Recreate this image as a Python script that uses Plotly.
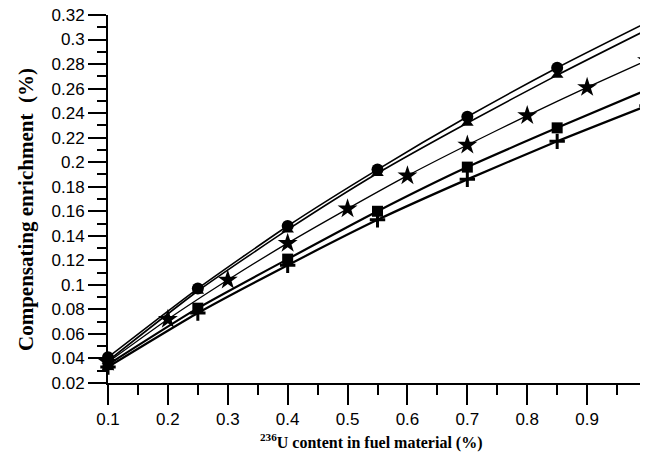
import plotly.graph_objects as go

x7 = [0.1, 0.25, 0.4, 0.55, 0.7, 0.85, 1.0]
x10 = [0.1, 0.2, 0.3, 0.4, 0.5, 0.6, 0.7, 0.8, 0.9, 1.0]
x_labels = ["0.1", "0.2", "0.3", "0.4", "0.5", "0.6", "0.7", "0.8", "0.9", "1"]

circle_vals = [0.041, 0.097, 0.148, 0.194, 0.237, 0.277, 0.314]
triangle_vals = [0.038, 0.095, 0.145, 0.191, 0.232, 0.271, 0.308]
star_vals = [0.037, 0.072, 0.104, 0.134, 0.162, 0.189, 0.214, 0.238, 0.261, 0.283]
square_vals = [0.035, 0.081, 0.121, 0.160, 0.196, 0.228, 0.259]
plus_vals = [0.033, 0.077, 0.116, 0.153, 0.186, 0.217, 0.246]

series = [
    (x7, circle_vals, "circle", 12, 1.6),
    (x7, triangle_vals, "triangle-up", 11, 1.6),
    (x10, star_vals, "star", 15, 1.3),
    (x7, square_vals, "square", 11, 2.2),
    (x7, plus_vals, "cross-thin", 11, 2.2),
]

fig = go.Figure()
for xs, ys, sym, sz, lw in series:
    mk = dict(symbol=sym, size=sz, color="black")
    if sym == "cross-thin":
        mk["line"] = dict(color="black", width=3)
    fig.add_trace(go.Scatter(
        x=xs, y=ys, mode="lines+markers",
        line=dict(color="black", width=lw, shape="spline", smoothing=0.6),
        marker=mk, cliponaxis=False, showlegend=False,
    ))

# page body has an 8px offset; compensate so the plot lands where the reference has it
OFF = 8
W, H = 640, 445
L, R, T, B = 108 - OFF, 1, 15 - OFF, 70
pw, ph = W - L - R, H - T - B

fig.update_layout(
    width=W, height=H,
    margin=dict(l=L, r=R, t=T, b=B, autoexpand=False),
    paper_bgcolor="white", plot_bgcolor="white",
    font=dict(family="Liberation Sans, Arial", size=17, color="black"),
)
fig.update_xaxes(
    range=[0.1, 1.0], tickvals=x10, ticktext=x_labels, automargin=False,
    ticklabeloverflow="allow",
    showline=True, linecolor="black", linewidth=2, showgrid=False, zeroline=False,
    ticks="outside", ticklen=20, tickwidth=2, tickcolor="black",
    minor=dict(ticks="outside", ticklen=10, tickwidth=2, tickcolor="black", dtick=0.05, tick0=0.1, showgrid=False),
    tickfont=dict(size=17),
)
fig.update_yaxes(
    range=[0.02, 0.32], dtick=0.02, tick0=0.02, automargin=False,
    ticklabeloverflow="allow",
    showline=True, linecolor="black", linewidth=2, showgrid=False, zeroline=False,
    ticks="outside", ticklen=18, tickwidth=2, tickcolor="black",
    minor=dict(ticks="outside", ticklen=9, tickwidth=2, tickcolor="black", dtick=0.01, tick0=0.02, showgrid=False),
    tickfont=dict(size=17),
)

serif = "Liberation Serif, Times New Roman"
# target positions in window pixels
ytitle_x, ytitle_y = 26, 210
xtitle_x, xtitle_y = 371, 441
fig.add_annotation(
    text="<b>Compensating enrichment  (%)</b>", textangle=-90,
    xref="paper", yref="paper",
    x=(ytitle_x - OFF - L) / pw, y=(H - B - (ytitle_y - OFF)) / ph,
    xanchor="center", yanchor="middle", showarrow=False,
    font=dict(family=serif, size=21, color="black"),
)
fig.add_annotation(
    text="<b><sup>236</sup>U content in fuel material (%)</b>",
    xref="paper", yref="paper",
    x=(xtitle_x - OFF - L) / pw, y=(H - B - (xtitle_y - OFF)) / ph,
    xanchor="center", yanchor="middle", showarrow=False,
    font=dict(family=serif, size=16, color="black"),
)

fig.write_html("out.html")
